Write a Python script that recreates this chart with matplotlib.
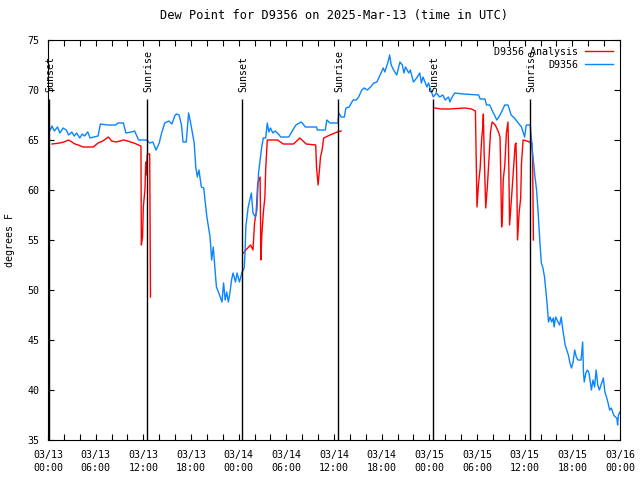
import numpy as np
import matplotlib
matplotlib.use("Agg")
import matplotlib.pyplot as plt

# Hours since 2025-03-13 00:00 UTC
obs_hours = [0.0, 0.3, 0.5, 0.8, 1.2, 1.5, 1.9, 2.3, 2.6, 3.0, 3.3, 3.6, 4.0, 4.3, 4.6, 5.0, 5.3, 5.8, 6.3,
             6.6, 7.5, 8.5, 8.8, 9.5, 9.8, 10.5, 10.9, 11.4, 12.4, 12.8, 13.2, 13.6, 14.0, 14.3, 14.7, 15.2,
             15.6, 16.0, 16.2, 16.5, 16.8, 17.0, 17.4, 17.7, 18.0, 18.4, 18.6, 18.8, 19.0, 19.3, 19.6, 20.0,
             20.4, 20.6, 20.8, 21.0, 21.2, 21.5, 21.9, 22.1, 22.3, 22.5, 22.7, 22.9, 23.1, 23.3, 23.6, 23.8,
             24.1, 24.4, 24.7, 24.8, 24.9, 25.2, 25.4, 25.6, 25.8, 26.1, 26.3, 26.5, 26.7, 26.9, 27.1, 27.4,
             27.6, 27.8, 28.0, 28.3, 28.6, 29.0, 29.3, 30.3, 30.6, 31.2, 31.9, 32.4, 33.8, 33.9, 34.9, 35.1,
             35.5, 36.5, 36.6, 36.9, 37.3, 37.5, 37.9, 38.4, 38.8, 39.1, 39.5, 39.8, 40.2, 40.6, 41.0, 41.4,
             41.8, 42.2, 42.4, 42.8, 43.0, 43.2, 43.5, 43.9, 44.3, 44.6, 44.8, 45.0, 45.4, 45.6, 46.0, 46.4,
             46.8, 47.0, 47.2, 47.7, 47.9, 48.1, 48.5, 48.9, 49.3, 49.7, 50.0, 50.4, 50.6, 50.8, 51.2, 52.3,
             54.2, 54.4, 55.0, 55.2, 55.6, 56.0, 56.5, 56.9, 57.5, 57.9, 58.3, 58.7, 59.2, 59.6, 60.0, 60.2,
             60.7, 61.0, 61.3, 61.5, 61.7, 61.9, 62.1, 62.3, 62.5, 62.8, 63.0, 63.2, 63.4, 63.6, 63.7, 63.9,
             64.2, 64.4, 64.6, 64.8, 65.1, 65.3, 65.5, 65.7, 65.9, 66.1, 66.3, 66.5, 66.7, 67.1, 67.3, 67.4,
             67.5, 67.7, 67.9, 68.1, 68.4, 68.6, 68.8, 69.0, 69.2, 69.4, 69.9, 70.1, 70.3, 70.5, 70.7, 70.9,
             71.2, 71.4, 71.6, 71.7, 71.8, 72.0]
obs_dewpt = [66.5, 66.0, 66.4, 65.9, 66.3, 65.7, 66.2, 66.0, 65.5, 65.8, 65.4, 65.7, 65.2, 65.6, 65.4, 65.8,
             65.2, 65.3, 65.4, 66.6, 66.5, 66.5, 66.7, 66.7, 65.7, 65.8, 65.9, 65.0, 65.0, 64.7, 64.8, 64.0,
             64.7, 65.7, 66.7, 66.9, 66.6, 67.5, 67.6, 67.5, 66.5, 64.8, 64.8, 67.7, 66.5, 64.7, 62.3, 61.3,
             62.0, 60.3, 60.2, 57.3, 55.3, 53.0, 54.3, 52.3, 50.3, 49.7, 48.8, 50.7, 49.0, 49.8, 48.8, 49.7,
             51.0, 51.7, 50.8, 51.7, 50.8, 51.7, 52.2, 53.7, 56.3, 58.3, 59.0, 59.7, 57.7, 57.3, 58.0, 61.7,
             63.0, 64.3, 65.2, 65.2, 66.7, 65.8, 66.2, 65.7, 65.9, 65.6, 65.3, 65.3, 65.7, 66.5, 66.8, 66.3,
             66.3, 66.0, 66.0, 67.0, 66.7, 66.7, 67.7, 67.3, 67.3, 68.2, 68.3, 69.0, 69.0, 69.3, 70.0, 70.2,
             70.0, 70.3, 70.7, 70.8, 71.5, 72.2, 71.8, 72.8, 73.5, 72.5, 72.0, 71.5, 72.8, 72.5, 71.7, 72.3,
             71.7, 72.0, 70.8, 71.2, 71.7, 70.7, 71.3, 70.3, 70.7, 70.2, 69.3, 69.7, 69.3, 69.5, 69.0, 69.3,
             68.8, 69.2, 69.7, 69.6, 69.5, 69.1, 69.1, 68.5, 68.5, 67.8, 67.0, 67.5, 68.5, 68.5, 67.5, 67.2,
             66.7, 66.3, 65.3, 66.5, 66.5, 63.7, 61.3, 60.0, 57.7, 55.0, 52.7, 52.2, 51.3, 48.8, 46.8, 47.3,
             46.8, 47.2, 46.3, 47.3, 46.8, 46.5, 47.3, 46.0, 44.5, 44.0, 43.5, 42.7, 42.2, 42.8, 44.0, 43.3,
             43.0, 43.0, 44.8, 41.8, 40.8, 41.7, 42.0, 41.7, 40.0, 41.0, 40.3, 42.0, 40.5, 40.0, 41.2, 39.8,
             39.3, 38.7, 38.0, 38.2, 37.5, 37.3, 37.2, 36.5, 37.5, 37.8]

# Analysis series, gaps where no analysis was available
ana_hours = [0.5, 1.5, 2.0, 2.6, 3.0, 3.4, 3.8, 4.4, 5.7, 6.3, 6.9, 7.6, 8.0, 8.6, 9.5, 10.0, 10.8, 11.7,
             11.75, 11.9, 12.0, 12.2, 12.3, 12.35, 12.5, 12.8, 12.85, 12.9, 18.0,
             24.6, 24.9, 25.5, 25.8, 26.0, 26.2, 26.4, 26.7, 26.8, 26.9, 27.1, 27.3, 27.4, 27.6, 28.9, 29.6,
             30.9, 31.7, 32.5, 33.7, 33.8, 34.0, 34.2, 34.3, 34.5, 34.7, 35.5, 36.4, 36.9, 42.0,
             48.7, 49.5, 50.5, 52.5, 53.3, 53.8, 53.9, 54.0, 54.2, 54.4, 54.6, 54.7, 54.8, 54.9, 55.1, 55.3,
             55.5, 55.7, 55.9, 56.3, 56.7, 56.9, 57.0, 57.1, 57.2, 57.3, 57.5, 57.7, 57.9, 58.0, 58.1, 58.3,
             58.5, 58.8, 58.9, 59.0, 59.1, 59.3, 59.5, 59.6, 59.8, 60.3, 60.9, 61.0, 61.1]
ana_dewpt = [64.6, 64.7, 64.8, 65.0, 64.8, 64.6, 64.5, 64.3, 64.3, 64.7, 64.9, 65.3, 64.9, 64.8, 65.0, 64.9,
             64.7, 64.4, 54.5, 55.3, 58.3, 60.0, 62.8, 61.5, 63.6, 63.6, 56.5, 49.3, np.nan,
             53.7, 54.0, 54.5, 54.0, 56.7, 57.7, 60.7, 61.3, 53.0, 55.3, 57.7, 59.3, 62.0, 65.0, 65.0, 64.6,
             64.6, 65.2, 64.6, 64.5, 62.3, 60.5, 62.3, 63.3, 64.0, 65.2, 65.5, 65.8, 65.9, np.nan,
             68.2, 68.1, 68.1, 68.2, 68.1, 67.9, 63.2, 58.3, 60.7, 62.2, 65.3, 66.0, 67.6, 63.7, 58.2, 60.3,
             63.0, 65.8, 66.8, 66.5, 65.8, 65.3, 61.2, 56.3, 57.3, 61.0, 62.5, 65.7, 66.8, 62.7, 56.5, 58.7,
             61.0, 64.5, 64.7, 61.7, 55.0, 57.7, 59.2, 62.7, 65.0, 64.9, 64.7, 63.3, 55.0]

sunset_hours = [0.17, 24.4, 48.5]
sunrise_hours = [12.5, 36.55, 60.7]

tick_hours = list(range(0, 73, 6))
tick_labels = ["03/13\n00:00", "03/13\n06:00", "03/13\n12:00", "03/13\n18:00",
               "03/14\n00:00", "03/14\n06:00", "03/14\n12:00", "03/14\n18:00",
               "03/15\n00:00", "03/15\n06:00", "03/15\n12:00", "03/15\n18:00",
               "03/16\n00:00"]

plt.rcParams["font.family"] = ["DejaVu Sans Mono"]
plt.rcParams["font.size"] = 7.2

fig = plt.figure(figsize=(6.4, 4.8), dpi=100)
ax = fig.add_axes([48 / 640, 40 / 480, 572 / 640, 400 / 480])

ax.plot(ana_hours, ana_dewpt, color="#ff0000", lw=1.0, label="D9356 Analysis")
ax.plot(obs_hours, obs_dewpt, color="#0a84ff", lw=1.0, label="D9356")

# Sunrise / sunset markers
for h in sunset_hours:
    ax.vlines(h, 35, 69.1, color="black", lw=1.0)
    ax.text(h + 0.15, 69.8, "Sunset", rotation=90, ha="center", va="bottom")
for h in sunrise_hours:
    ax.vlines(h, 35, 69.1, color="black", lw=1.0)
    ax.text(h + 0.15, 69.8, "Sunrise", rotation=90, ha="center", va="bottom")

ax.set_xlim(0, 72)
ax.set_ylim(35, 75)
ax.set_xticks(tick_hours)
ax.set_xticklabels(tick_labels, linespacing=1.35)
ax.set_xticks(range(0, 73, 2), minor=True)
ax.set_yticks(range(35, 76, 5))
ax.tick_params(which="both", direction="in", top=True, right=True, length=4, width=0.8)
ax.tick_params(axis="x", which="major", pad=7)
ax.tick_params(axis="y", which="major", pad=6)
for s in ax.spines.values():
    s.set_linewidth(0.8)

ax.set_title("Dew Point for D9356 on 2025-Mar-13 (time in UTC)", pad=15)
ax.set_ylabel("degrees F")
ax.yaxis.set_label_coords(-33 / 572, 0.5)

ax.legend(loc="upper right", frameon=False, markerfirst=False, handlelength=2.8,
          handletextpad=0.7, labelspacing=0.3, borderaxespad=0.5, borderpad=0.2)

fig.savefig("out.png", dpi=100)
